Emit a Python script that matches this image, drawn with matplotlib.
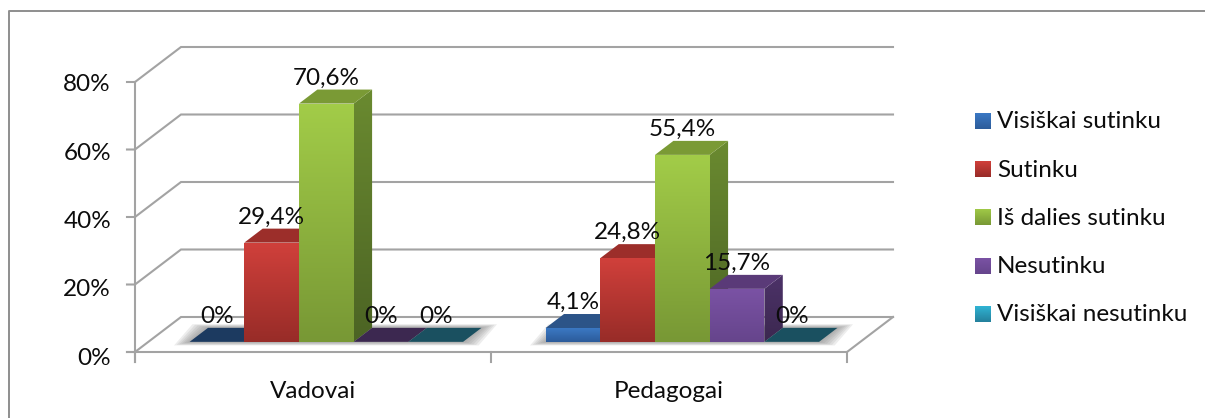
import numpy as np
import matplotlib
matplotlib.use("Agg")
import matplotlib.pyplot as plt
from matplotlib.colors import LinearSegmentedColormap
from matplotlib.patches import Polygon

plt.rcParams["font.family"] = ["Lato", "DejaVu Sans"]

categories = ["Vadovai", "Pedagogai"]
series = ["Visiškai sutinku", "Sutinku", "Iš dalies sutinku", "Nesutinku", "Visiškai nesutinku"]
values = [
    [0, 4.1],
    [29.4, 24.8],
    [70.6, 55.4],
    [0, 15.7],
    [0, 0],
]
labels = [
    ["0%", "4,1%"],
    ["29,4%", "24,8%"],
    ["70,6%", "55,4%"],
    ["0%", "15,7%"],
    ["0%", "0%"],
]
yticks = [0, 20, 40, 60, 80]

# colours per series: front top, front bottom, side top, side bottom, top face, flat (zero) bar
front_top = ["#3b78c4", "#d0403b", "#a2cc48", "#7a52a4", "#30b4d4"]
front_bot = ["#2c5c9a", "#982c28", "#789835", "#66458c", "#24809c"]
side_top = ["#24487a", "#7c2420", "#6a8a30", "#4c3268", "#1c6074"]
side_bot = ["#1c3a60", "#5c1a18", "#4c6424", "#3c2850", "#144858"]
top_face = ["#2c5488", "#9c2e2a", "#7a9a35", "#5a3a78", "#1c6478"]
flat_face = ["#1c3a60", "#7c2420", "#4c6424", "#3c2850", "#1a5060"]

W, H = 1205, 418
X0, Y0 = 135, 352          # pixel of the front floor corner
PX_X = 2 / 712             # category units per pixel
PX_Y = 80 / 270            # percent per pixel
DX, DY = 46 * PX_X, 35 * PX_Y   # chart depth
BAR_W = 54.7 * PX_X
D_FRONT, D_BACK = 0.29, 0.69
GRID = "#a3a3a3"
FS = 17.5
TXT = "#0c0c0c"

fig = plt.figure(figsize=(W / 100, H / 100), dpi=100)
ax = fig.add_axes([0, 0, 1, 1])
xlim = (-X0 * PX_X, (W - X0) * PX_X)
ylim = (-(H - Y0) * PX_Y, Y0 * PX_Y)


def px(x, y):
    return (x - X0) * PX_X, (Y0 - y) * PX_Y


def proj(x, y, d):
    return x + d * DX, y + d * DY


def grad(poly, c1, c2, z):
    # vertical gradient clipped to a polygon
    cmap = LinearSegmentedColormap.from_list("g", [c1, c2])
    poly = np.array(poly)
    x0, y0 = poly.min(axis=0)
    x1, y1 = poly.max(axis=0)
    im = ax.imshow(np.linspace(0, 1, 64).reshape(-1, 1), cmap=cmap, aspect="auto",
                   extent=(x0, x1, y0, y1), origin="upper", zorder=z, interpolation="bilinear")
    patch = Polygon(poly, closed=True, transform=ax.transData, fc="none", ec="none")
    ax.add_patch(patch)
    im.set_clip_path(patch)


# outer chart border
bx, by = px(9, 11)
ax.plot([xlim[1], bx, bx], [by, by, ylim[0]], color="#8e8e8e", lw=1.4, zorder=1)

# walls and gridlines
for v in yticks:
    x_t, y_t = px(127, Y0 - v / PX_Y)
    bx2, by2 = proj(0, v, 1)
    ax.plot([x_t, 0, bx2, 2 + DX], [v, v, by2, by2], color=GRID, lw=1.5, zorder=2,
            solid_joinstyle="miter")
    if v == 0:
        ax.plot([x_t, 2, 2 + DX], [0, 0, DY], color=GRID, lw=1.5, zorder=2)
ax.plot([0, 0], [px(0, 362)[1], 80], color=GRID, lw=1.5, zorder=2)
for i in range(len(categories) + 1):
    ax.plot([i, i], [0, px(0, 362)[1]], color=GRID, lw=1.5, zorder=2)

# floor shadow under each group of bars
n = len(series)
for g in range(len(categories)):
    left = g + 0.5 - n * BAR_W / 2
    right = g + 0.5 + n * BAR_W / 2
    for k in range(6):
        e = (6 - k) * 2.6 * PX_X
        ey = (6 - k) * 0.6 * PX_Y
        xa, ya = proj(left, 0, D_FRONT)
        xb, yb = proj(right, 0, D_FRONT)
        xc, yc = proj(right, 0, D_BACK)
        xd, yd = proj(left, 0, D_BACK)
        ax.add_patch(Polygon([(xa - e, ya - ey), (xb + e, yb - ey), (xc + e, yc + ey), (xd - e, yd + ey)],
                             closed=True, fc="#808080", ec="none", alpha=0.14, zorder=3))

# bars
z = 4
for g in range(len(categories)):
    left = g + 0.5 - n * BAR_W / 2
    for s in range(n):
        v = values[s][g]
        x0 = left + s * BAR_W
        x1 = x0 + BAR_W
        fb = proj(x0, 0, D_FRONT)
        fb2 = proj(x1, 0, D_FRONT)
        ft = proj(x0, v, D_FRONT)
        ft2 = proj(x1, v, D_FRONT)
        bb2 = proj(x1, 0, D_BACK)
        bt = proj(x0, v, D_BACK)
        bt2 = proj(x1, v, D_BACK)
        if v == 0:
            ax.add_patch(Polygon([ft, ft2, bt2, bt], closed=True, fc=flat_face[s], ec="none", zorder=z))
        else:
            grad([fb2, bb2, bt2, ft2], side_top[s], side_bot[s], z)
            ax.add_patch(Polygon([ft, ft2, bt2, bt], closed=True, fc=top_face[s], ec="none", zorder=z + 0.1))
            grad([fb, fb2, ft2, ft], front_top[s], front_bot[s], z + 0.2)
        z += 1
        ax.text((ft[0] + ft2[0]) / 2, bt[1] + 13.5 * PX_Y, labels[s][g], ha="center", va="center_baseline",
                fontsize=FS, color=TXT, zorder=50)

# axis labels
for v in yticks:
    x_l, _ = px(111, 0)
    ax.text(x_l, v * 1.012 - 1.2, f"{v}%", ha="right", va="center_baseline", fontsize=FS, color=TXT, zorder=50)
for g, c in enumerate(categories):
    ax.text(g + 0.5, px(0, 389)[1], c, ha="center", va="center_baseline", fontsize=FS, color=TXT, zorder=50)

# legend
for s, name in enumerate(series):
    yc = 121 + s * 48.2
    a = px(975, yc - 8)
    b = px(991, yc + 8)
    grad([(a[0], a[1]), (b[0], a[1]), (b[0], b[1]), (a[0], b[1])], front_top[s], front_bot[s], 40)
    ax.text(px(997, 0)[0], px(0, yc - 1)[1], name, ha="left", va="center_baseline", fontsize=FS,
            color=TXT, zorder=50)

ax.set_xlim(xlim)
ax.set_ylim(ylim)
ax.axis("off")
fig.savefig("out.png", dpi=100)
